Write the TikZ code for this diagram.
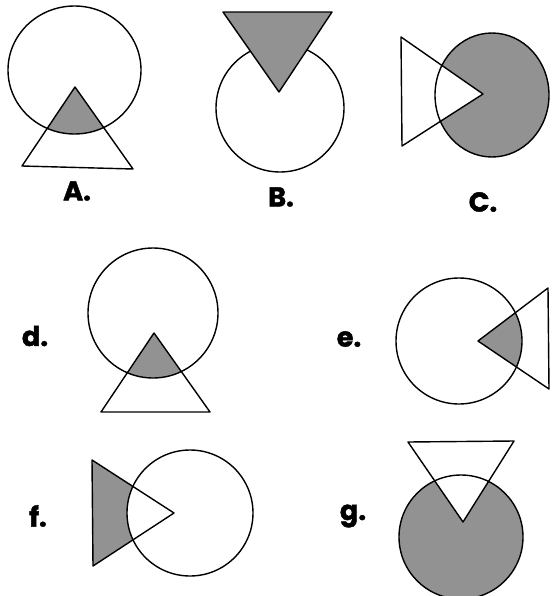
\documentclass[tikz,border=0pt]{standalone}
\usepackage{fontspec}
\setmainfont{Poppins}
\newfontfamily\labelfont{Poppins}[BoldFeatures={FakeBold=1.6}]
\definecolor{shadegray}{RGB}{146,146,146}

\begin{document}
\begin{tikzpicture}[
    x=0.04cm, y=-0.04cm,
    outline/.style={draw=black, line width=1.6pt, line join=round},
    shaded/.style={fill=shadegray},
    blank/.style={fill=white},
    lbl/.style={font=\labelfont\fontsize{31}{34}\selectfont\bfseries, inner sep=0pt},
]
\useasboundingbox (0,0) rectangle (551,596);

% A.
\begin{scope}
    \clip (74.5,70) ellipse [x radius=66.5, y radius=64];
    \fill[shaded] (75,87) -- (22,166) -- (133,169) -- cycle;
\end{scope}
\draw[outline] (74.5,70) ellipse [x radius=66.5, y radius=64];
\draw[outline] (75,87) -- (22,166) -- (133,169) -- cycle;
\node[lbl] (labelA) at (77,191) {A.};

% B.
\draw[outline] (280,108) circle [radius=64];
\draw[outline, shaded] (223,12) -- (332,12) -- (279,92) -- cycle;
\node[lbl] (labelB) at (281,197) {B.};

% C.
\fill[shaded] (492,95) ellipse [x radius=57, y radius=62];
\fill[blank] (401,37) -- (483,94) -- (402,146) -- cycle;
\draw[outline] (492,95) ellipse [x radius=57, y radius=62];
\draw[outline] (401,37) -- (483,94) -- (402,146) -- cycle;
\node[lbl] (labelC) at (483,202) {C.};

% d.
\begin{scope}
    \clip (153,313) circle [radius=65];
    \fill[shaded] (154,333) -- (101,412) -- (210,412) -- cycle;
\end{scope}
\draw[outline] (153,313) circle [radius=65];
\draw[outline] (154,333) -- (101,412) -- (210,412) -- cycle;
\node[lbl] (labeld) at (35,336) {d.};

% e.
\begin{scope}
    \clip (459,341) circle [radius=63];
    \fill[shaded] (478,341) -- (548,288) -- (549,389) -- cycle;
\end{scope}
\draw[outline] (459,341) circle [radius=63];
\draw[outline] (478,341) -- (548,288) -- (549,389) -- cycle;
\node[lbl] (labele) at (349,339) {e.};

% f.
\fill[shaded] (92,460) -- (174,513) -- (93,566) -- cycle;
\fill[blank] (190,513) circle [radius=63];
\draw[outline] (190,513) circle [radius=63];
\draw[outline] (92,460) -- (174,513) -- (93,566) -- cycle;
\node[lbl] (labelf) at (38,516) {f.};

% g.
\fill[shaded] (461,537) circle [radius=62];
\fill[blank] (408,442) -- (514,441) -- (463,522) -- cycle;
\draw[outline] (461,537) circle [radius=62];
\draw[outline] (408,442) -- (514,441) -- (463,522) -- cycle;
\node[lbl] (labelg) at (353,516) {g.};

\end{tikzpicture}
\end{document}
